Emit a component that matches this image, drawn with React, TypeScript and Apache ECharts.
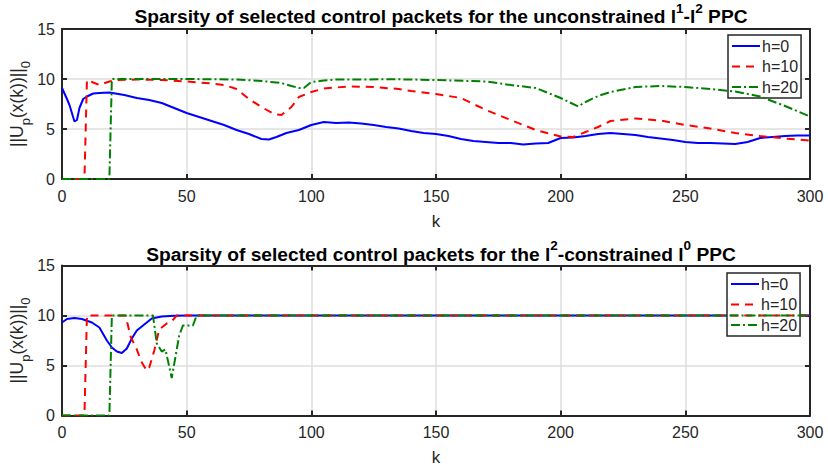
import React, { useEffect, useRef } from "react";
import * as echarts from "echarts";

// ---- Data ----
const SERIES_NAMES = ["h=0", "h=10", "h=20"];
const X_TICKS = [0, 50, 100, 150, 200, 250, 300];
const Y_TICKS = [0, 5, 10, 15];

// Top panel: unconstrained l1-l2 PPC
const TOP_H0_K = [0, 2, 3, 5, 6, 7, 8.5, 10, 12.5, 15, 19, 25, 30, 35, 40, 45, 50, 55, 60, 65, 70, 75, 80, 83, 86, 90, 95, 100, 105, 110, 115, 120, 125, 130, 135, 140, 145, 150, 155, 160, 165, 170, 175, 180, 185, 190, 195, 200, 205, 210, 215, 220, 225, 230, 235, 240, 245, 250, 255, 260, 265, 270, 275, 280, 285, 290, 295, 300];
const TOP_H0_V = [9.1, 8.0, 7.4, 5.75, 5.9, 7.1, 8.0, 8.25, 8.55, 8.6, 8.65, 8.4, 8.1, 7.9, 7.6, 7.1, 6.6, 6.2, 5.8, 5.4, 4.9, 4.5, 4.0, 3.95, 4.2, 4.6, 4.9, 5.4, 5.7, 5.6, 5.65, 5.55, 5.4, 5.2, 5.05, 4.8, 4.6, 4.5, 4.3, 4.0, 3.8, 3.7, 3.6, 3.6, 3.45, 3.55, 3.6, 4.1, 4.15, 4.3, 4.5, 4.6, 4.5, 4.4, 4.2, 4.05, 3.9, 3.7, 3.6, 3.6, 3.55, 3.5, 3.7, 4.1, 4.2, 4.3, 4.35, 4.35];

const TOP_H10_K = [0, 9, 10, 13, 15, 19, 22, 30, 40, 50, 60, 65, 70, 75, 80, 85, 88, 92, 95, 100, 105, 115, 125, 135, 140, 150, 160, 170, 180, 190, 200, 205, 210, 215, 220, 230, 240, 250, 260, 270, 280, 290, 300];
const TOP_H10_V = [0, 0, 9.9, 9.6, 9.4, 9.75, 9.9, 9.95, 9.9, 9.75, 9.55, 9.4, 9.0, 8.0, 7.2, 6.5, 6.4, 7.2, 8.2, 8.7, 9.05, 9.25, 9.2, 9.0, 8.8, 8.5, 8.1, 6.9, 5.9, 4.9, 4.25, 4.2, 4.7, 5.2, 5.8, 6.05, 5.85, 5.4, 5.05, 4.6, 4.3, 4.05, 3.85];

const TOP_H20_K = [0, 19, 20, 30, 50, 70, 80, 88, 92, 95, 97, 100, 105, 110, 135, 150, 170, 180, 190, 200, 207, 210, 215, 220, 230, 240, 250, 260, 270, 280, 290, 300];
const TOP_H20_V = [0, 0, 10, 10, 10, 9.95, 9.8, 9.6, 9.3, 9.1, 9.1, 9.7, 9.85, 9.95, 9.97, 9.9, 9.75, 9.4, 9.1, 8.1, 7.25, 7.7, 8.3, 8.7, 9.2, 9.3, 9.2, 9.0, 8.75, 8.25, 7.3, 6.25];

// Bottom panel: l2-constrained l0 PPC
const BOT_H0_K = [0, 2, 5, 8, 12, 15, 18, 20, 22, 24, 26, 28, 30, 33, 36, 40, 45, 50, 300];
const BOT_H0_V = [9.3, 9.65, 9.75, 9.65, 9.3, 8.8, 7.5, 6.8, 6.4, 6.25, 6.7, 7.7, 8.5, 9.1, 9.7, 9.9, 9.97, 10, 10];

const BOT_H10_K = [0, 9, 10, 25.5, 27.5, 30, 32, 34, 35, 37, 39, 42, 44, 46, 300];
const BOT_H10_V = [0, 0, 10, 10, 7.9, 6.6, 5.3, 4.5, 4.8, 6.5, 8.6, 9.2, 9.4, 10, 10];

const BOT_H20_K = [0, 19, 20, 36.5, 38, 40, 41.5, 44, 47, 48.5, 52.5, 54, 300];
const BOT_H20_V = [0, 0, 10, 10, 7.2, 6.4, 6.6, 3.75, 8.0, 9.0, 9.0, 10, 10];

const COLORS = ["#0000ff", "#ff0000", "#008000"];
const DASHES: any[] = ["solid", [8, 6], [9, 3, 2, 3]];

const zip = (k: number[], v: number[]) => k.map((x, i) => [x, v[i]]);

const TEXT = "#262626";
const FONT = "Liberation Sans, Arial, Helvetica, sans-serif";

export default function App() {
  const ref = useRef<HTMLDivElement>(null);
  useEffect(() => {
    if (!ref.current) return;
    const chart = echarts.init(ref.current, undefined, { renderer: "svg" });

    const grids = [
      { left: 62, top: 29, width: 748, height: 150, outerBoundsMode: "none", containLabel: false },
      { left: 62, top: 265.5, width: 748, height: 150, outerBoundsMode: "none", containLabel: false },
    ];

    const xAxes: any[] = [];
    const yAxes: any[] = [];
    grids.forEach((_, g) => {
      xAxes.push({
        type: "value", gridIndex: g, position: "bottom",
        min: X_TICKS[0], max: X_TICKS[X_TICKS.length - 1], interval: 50,
        name: "k", nameLocation: "middle", nameGap: 33.5, nameMoveOverlap: false,
        nameTextStyle: { color: TEXT, fontSize: 17, fontFamily: FONT },
        axisLine: { show: true, onZero: false, lineStyle: { color: TEXT, width: 2 } },
        axisTick: { show: true, inside: true, length: 5, lineStyle: { color: TEXT, width: 2 } },
        axisLabel: { color: TEXT, fontSize: 16, fontFamily: FONT, margin: 9 },
        splitLine: { show: true, lineStyle: { color: "#dedede", width: 1.5 } },
      });
      xAxes.push({
        type: "value", gridIndex: g, position: "top",
        min: X_TICKS[0], max: X_TICKS[X_TICKS.length - 1], interval: 50,
        axisLine: { show: true, onZero: false, lineStyle: { color: TEXT, width: 2 } },
        axisTick: { show: true, inside: true, length: 5, lineStyle: { color: TEXT, width: 2 } },
        axisLabel: { show: false },
        splitLine: { show: false },
      });
      yAxes.push({
        type: "value", gridIndex: g, position: "left",
        min: Y_TICKS[0], max: Y_TICKS[Y_TICKS.length - 1], interval: 5,
        name: "{n|||U}{s|p}{n|(x(k))||}{s|0}",
        nameLocation: "middle", nameGap: 30, nameRotate: 90, nameMoveOverlap: false,
        nameTextStyle: {
          color: TEXT, fontFamily: FONT,
          rich: {
            n: { fontSize: 17.5, color: TEXT, fontFamily: FONT, lineHeight: 24, verticalAlign: "top" },
            s: { fontSize: 13, color: TEXT, fontFamily: FONT, lineHeight: 13, verticalAlign: "bottom" },
          },
        },
        axisLine: { show: true, onZero: false, lineStyle: { color: TEXT, width: 2 } },
        axisTick: { show: true, inside: true, length: 5, lineStyle: { color: TEXT, width: 2 } },
        axisLabel: { color: TEXT, fontSize: 16, fontFamily: FONT, margin: 7 },
        splitLine: { show: true, lineStyle: { color: "#dedede", width: 1.5 } },
      });
      yAxes.push({
        type: "value", gridIndex: g, position: "right",
        min: Y_TICKS[0], max: Y_TICKS[Y_TICKS.length - 1], interval: 5,
        axisLine: { show: true, onZero: false, lineStyle: { color: TEXT, width: 2 } },
        axisTick: { show: true, inside: true, length: 5, lineStyle: { color: TEXT, width: 2 } },
        axisLabel: { show: false },
        splitLine: { show: false },
      });
    });

    const panels = [
      [zip(TOP_H0_K, TOP_H0_V), zip(TOP_H10_K, TOP_H10_V), zip(TOP_H20_K, TOP_H20_V)],
      [zip(BOT_H0_K, BOT_H0_V), zip(BOT_H10_K, BOT_H10_V), zip(BOT_H20_K, BOT_H20_V)],
    ];
    const series: any[] = [];
    panels.forEach((p, g) => {
      p.forEach((data, i) => {
        series.push({
          name: SERIES_NAMES[i], type: "line",
          xAxisIndex: g * 2, yAxisIndex: g * 2,
          data, symbol: "none", showSymbol: false, smooth: false,
          lineStyle: { color: COLORS[i], width: 2, type: DASHES[i] },
          itemStyle: { color: COLORS[i] },
          z: 3 + i,
        });
      });
    });

    const titleRich = {
      t: { fontSize: 19.2, fontWeight: "bold", color: "#000", fontFamily: FONT, lineHeight: 25, verticalAlign: "bottom" },
      s: { fontSize: 13.5, fontWeight: "bold", color: "#000", fontFamily: FONT, lineHeight: 13, verticalAlign: "top" },
    };

    const legendBase = {
      orient: "vertical",
      data: SERIES_NAMES,
      backgroundColor: "#fff",
      borderColor: TEXT, borderWidth: 1.5, borderRadius: 0,
      padding: [3, 3, 3, 3],
      itemGap: 4.5, itemWidth: 28, itemHeight: 16,
      itemStyle: { opacity: 0, borderWidth: 0 },
      textStyle: { color: TEXT, fontSize: 16, fontFamily: FONT, padding: [0, 0, 0, -3] },
      selectedMode: false,
    };

    chart.setOption({
      animation: false,
      backgroundColor: "#fff",
      textStyle: { fontFamily: FONT },
      title: [
        {
          text: "{t|Sparsity of selected control packets for the unconstrained l}{s|1}{t|-l}{s|2}{t| PPC}",
          left: 436, top: -4, textAlign: "center",
          textStyle: { rich: titleRich },
        },
        {
          text: "{t|Sparsity of selected control packets for the l}{s|2}{t|-constrained l}{s|0}{t| PPC}",
          left: 436, top: 233.5, textAlign: "center",
          textStyle: { rich: titleRich },
        },
      ],
      legend: [
        { ...legendBase, left: 728, top: 35 },
        { ...legendBase, left: 727, top: 273 },
      ],
      grid: grids,
      xAxis: xAxes,
      yAxis: yAxes,
      series,
    });
    return () => chart.dispose();
  }, []);
  return <div ref={ref} style={{ width: 828, height: 467, position: "absolute", left: 0, top: 0 }} />;
}
